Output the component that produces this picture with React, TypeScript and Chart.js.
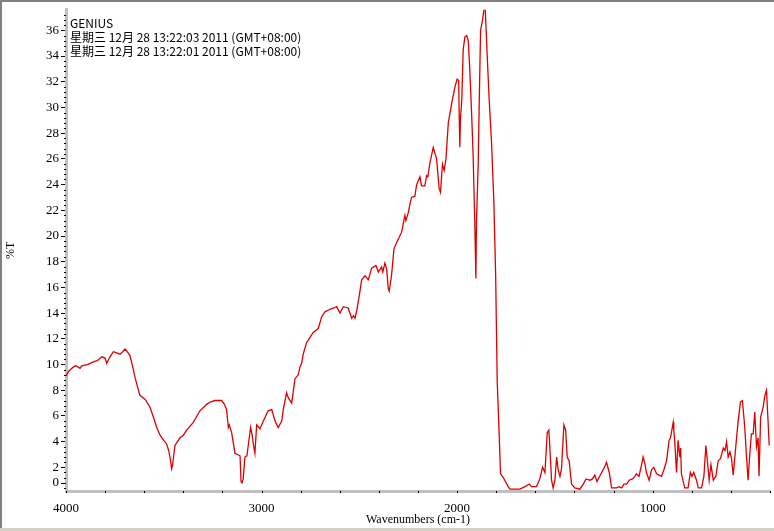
import React, { useEffect, useRef } from 'react';
import { Chart, registerables } from 'chart.js';

Chart.register(...registerables);

const wavenumbers = [
  4000, 3985, 3963, 3950, 3928, 3920, 3890, 3860, 3840, 3817, 3800, 3792, 3775, 3758, 3740, 3724, 3710, 3698, 3687, 3673,
  3660, 3647, 3635, 3622, 3596, 3571, 3555, 3536, 3519, 3500, 3485, 3475, 3468, 3460, 3455, 3443, 3417, 3400, 3383, 3349,
  3315, 3281, 3260, 3238, 3220, 3204, 3190, 3179, 3170, 3165, 3153, 3136, 3110, 3105, 3100, 3094, 3085, 3075, 3068, 3056,
  3048, 3042, 3034, 3025, 3008, 2991, 2966, 2948, 2931, 2915, 2897, 2889, 2872, 2863, 2846, 2829, 2812, 2804, 2795, 2787,
  2770, 2761, 2736, 2710, 2693, 2676, 2650, 2630, 2616, 2599, 2582, 2557, 2539, 2530, 2522, 2512, 2497, 2488, 2471, 2454,
  2437, 2415, 2403, 2386, 2380, 2369, 2360, 2352, 2347, 2335, 2323, 2309, 2296, 2284, 2267, 2262, 2250, 2241, 2233, 2216,
  2207, 2190, 2182, 2165, 2156, 2150, 2139, 2122, 2105, 2092, 2085, 2075, 2066, 2057, 2045, 2028, 2011, 2000, 1992, 1989,
  1986, 1983, 1976, 1969, 1960, 1951, 1943, 1935, 1926, 1918, 1909, 1904, 1901, 1892, 1887, 1880, 1870, 1862, 1856, 1846,
  1836, 1824, 1812, 1803, 1795, 1790, 1785, 1778, 1768, 1756, 1739, 1730, 1679, 1653, 1631, 1619, 1594, 1577, 1563, 1551,
  1539, 1531, 1526, 1517, 1509, 1500, 1491, 1483, 1474, 1466, 1454, 1445, 1437, 1427, 1415, 1398, 1372, 1355, 1341, 1321,
  1308, 1296, 1285, 1261, 1250, 1236, 1222, 1210, 1185, 1171, 1159, 1147, 1133, 1120, 1103, 1091, 1083, 1070, 1057, 1049,
  1040, 1032, 1018, 1006, 994, 980, 967, 955, 943, 929, 916, 909, 904, 895, 892, 887, 878, 870, 861, 857,
  853, 836, 819, 807, 799, 790, 776, 767, 750, 738, 728, 719, 711, 702, 690, 677, 665, 653, 639, 630,
  622, 614, 605, 597, 588, 575, 563, 551, 541, 529, 520, 512, 503, 495, 486, 478, 469, 461, 456, 448,
  435, 426, 418, 410, 404
];

const transmittance = [
  9.1, 9.5, 9.8, 9.9, 9.7, 9.9, 10.0, 10.2, 10.3, 10.6, 10.5, 10.1, 10.6, 11.0, 10.9, 10.8, 11.0, 11.2, 11.0, 10.7,
  9.9, 9.0, 8.3, 7.6, 7.3, 6.7, 6.0, 5.1, 4.5, 4.1, 3.8, 3.3, 2.8, 1.9, 2.2, 3.7, 4.3, 4.5, 4.9, 5.5,
  6.4, 6.9, 7.1, 7.2, 7.2, 7.2, 6.9, 6.5, 5.1, 5.3, 4.7, 3.1, 2.9, 0.9, 0.8, 1.1, 2.8, 2.9, 3.7, 5.1,
  4.5, 3.8, 3.1, 5.3, 5.0, 5.6, 6.4, 6.5, 5.6, 5.1, 5.6, 6.5, 7.8, 7.4, 7.0, 8.9, 9.2, 9.8, 10.1, 10.8,
  11.7, 11.9, 12.5, 12.8, 13.7, 14.1, 14.3, 14.4, 14.5, 14.0, 14.5, 14.4, 13.6, 13.8, 13.6, 14.3, 15.7, 16.6, 16.9, 16.6,
  17.5, 17.7, 17.2, 17.6, 17.2, 17.9, 17.4, 15.9, 15.7, 17.0, 19.0, 19.5, 19.9, 20.3, 21.6, 21.2, 21.8, 22.5, 23.0, 23.1,
  24.0, 24.6, 23.9, 23.9, 24.7, 24.6, 25.7, 26.9, 26.0, 23.7, 23.4, 25.6, 25.1, 26.0, 28.8, 30.3, 31.6, 32.2, 32.1, 29.1,
  26.9, 29.1, 30.6, 34.5, 35.5, 35.6, 35.2, 32.9, 29.6, 26.2, 20.6, 16.7, 21.1, 25.7, 30.3, 36.0, 36.8, 37.7, 37.6, 34.0,
  30.6, 27.3, 22.6, 17.0, 8.7, 6.7, 4.6, 1.5, 1.3, 1.0, 0.5, 0.3, 0.3, 0.5, 0.7, 0.5, 0.5, 1.1, 2.0, 1.6,
  4.7, 4.9, 3.6, 1.0, 0.4, 1.0, 2.8, 1.8, 1.3, 1.9, 5.3, 4.9, 2.8, 2.5, 0.7, 0.4, 0.3, 0.7, 1.1, 1.0,
  1.1, 1.4, 0.9, 1.6, 1.9, 2.4, 1.6, 0.4, 0.4, 0.5, 0.4, 0.7, 0.7, 1.0, 1.1, 1.3, 1.5, 1.3, 2.2, 2.8,
  2.3, 1.6, 1.0, 1.8, 2.0, 1.5, 1.4, 1.3, 1.8, 2.5, 4.1, 4.3, 4.7, 5.5, 4.9, 4.0, 1.6, 4.1, 2.8, 3.5,
  1.5, 0.4, 0.4, 1.6, 1.3, 1.6, 1.0, 0.4, 0.4, 1.3, 3.7, 2.3, 1.0, 2.2, 1.0, 1.3, 2.5, 2.7, 3.5, 3.3,
  4.0, 2.8, 3.2, 2.7, 1.4, 3.6, 5.6, 7.1, 7.2, 5.1, 2.8, 1.0, 3.1, 4.6, 4.6, 6.3, 3.6, 4.3, 1.3, 5.9,
  6.7, 7.6, 8.0, 5.6, 3.7
];

const yTickValues = [0, 2, 4, 6, 8, 10, 12, 14, 16, 18, 20, 22, 24, 26, 28, 30, 32, 34, 36];
const xTickLabels = [4000, 3000, 2000, 1000];
const headerLines = [
  'GENIUS',
  '星期三 12月 28 13:22:03 2011 (GMT+08:00)',
  '星期三 12月 28 13:22:01 2011 (GMT+08:00)'
];

const Y_MIN = 0.16;
const Y_MAX = 37.6;
const ZERO_LABEL_AT = 0.78;

export default function App() {
  const ref = useRef<HTMLCanvasElement>(null);

  useEffect(() => {
    document.body.style.margin = '0';
    const canvas = ref.current;
    if (!canvas) return;

    const framePlugin = {
      id: 'frame',
      beforeDraw(chart: any) {
        const { ctx, width, height } = chart;
        ctx.save();
        ctx.fillStyle = '#ffffff';
        ctx.fillRect(0, 0, width, height);
        ctx.restore();
      },
      afterDraw(chart: any) {
        const { ctx, width, height, chartArea } = chart;
        const ys = chart.scales.y;
        const xs = chart.scales.x;
        ctx.save();
        // frame
        ctx.fillStyle = '#808080';
        ctx.fillRect(0, 0, width, 2);
        ctx.fillRect(0, 0, 2, height);
        ctx.fillStyle = '#d4d0c8';
        ctx.fillRect(0, height - 3, width, 3);
        // minor y ticks
        ctx.fillStyle = '#000';
        for (let i = 1; i * 0.4 < Y_MAX; i++) {
          if (i % 5 === 0) continue;
          const py = Math.round(ys.getPixelForValue(i * 0.4));
          if (py < chartArea.top || py > chartArea.bottom) continue;
          ctx.fillRect(chartArea.left - 2, py, 2, 1);
        }
        // x ticks on bar
        for (let v = 400; v <= 4000; v += 200) {
          const px = Math.round(xs.getPixelForValue(v));
          ctx.fillRect(px, chartArea.bottom, 1, 2);
        }
        // header text
        ctx.fillStyle = '#000';
        ctx.font = '12px "Noto Sans CJK SC"';
        ctx.textBaseline = 'middle';
        ctx.textAlign = 'left';
        headerLines.forEach((t, i) => ctx.fillText(t, 70, 23 + i * 14));
        ctx.restore();
      }
    };

    const chart = new Chart(canvas, {
      type: 'line',
      data: {
        datasets: [
          {
            data: wavenumbers.map((w, i) => ({ x: w, y: transmittance[i] })),
            borderColor: '#dd0000',
            borderWidth: 1.3,
            pointRadius: 0,
            fill: false,
            tension: 0
          }
        ]
      },
      options: {
        responsive: false,
        animation: false,
        devicePixelRatio: 1,
        layout: { padding: { top: 3, right: 4, left: 0, bottom: 0 } },
        plugins: { legend: { display: false }, tooltip: { enabled: false } },
        scales: {
          x: {
            type: 'linear',
            reverse: true,
            min: 400,
            max: 4000,
            afterFit: (s: any) => { s.height = 40; },
            afterBuildTicks: (s: any) => {
              s.ticks = xTickLabels.map((v) => ({ value: v }));
            },
            ticks: {
              autoSkip: false,
              maxRotation: 0,
              padding: 10,
              color: '#000',
              font: { family: 'Liberation Serif', size: 13 },
              callback: (v: any) => String(v)
            },
            grid: { display: true, drawOnChartArea: false, drawTicks: false },
            border: { display: true, color: '#c0c0c0', width: 3 },
            title: {
              display: true,
              text: 'Wavenumbers (cm-1)',
              color: '#000',
              font: { family: 'Liberation Serif', size: 12 },
              padding: { top: 0, bottom: 4 }
            }
          },
          y: {
            type: 'linear',
            min: Y_MIN,
            max: Y_MAX,
            afterFit: (s: any) => { s.width = 66; },
            afterBuildTicks: (s: any) => {
              s.ticks = yTickValues.map((v) => ({ value: v === 0 ? ZERO_LABEL_AT : v }));
            },
            ticks: {
              autoSkip: false,
              padding: 2,
              color: '#000',
              font: { family: 'Liberation Serif', size: 13 },
              callback: (v: any) => (v < 1 ? '0' : String(v))
            },
            grid: {
              display: true,
              drawOnChartArea: false,
              drawTicks: true,
              tickLength: 5,
              tickColor: '#000',
              color: '#000'
            },
            border: { display: true, color: '#c0c0c0', width: 3 },
            title: {
              display: true,
              text: '%T',
              color: '#000',
              font: { family: 'Liberation Serif', size: 12 },
              padding: { top: 4, bottom: 0 }
            }
          }
        }
      },
      plugins: [framePlugin]
    });

    return () => chart.destroy();
  }, []);

  return (
    <div style={{ width: 774, height: 531, position: 'relative' }}>
      <canvas ref={ref} width={774} height={531} style={{ display: 'block' }} />
    </div>
  );
}
